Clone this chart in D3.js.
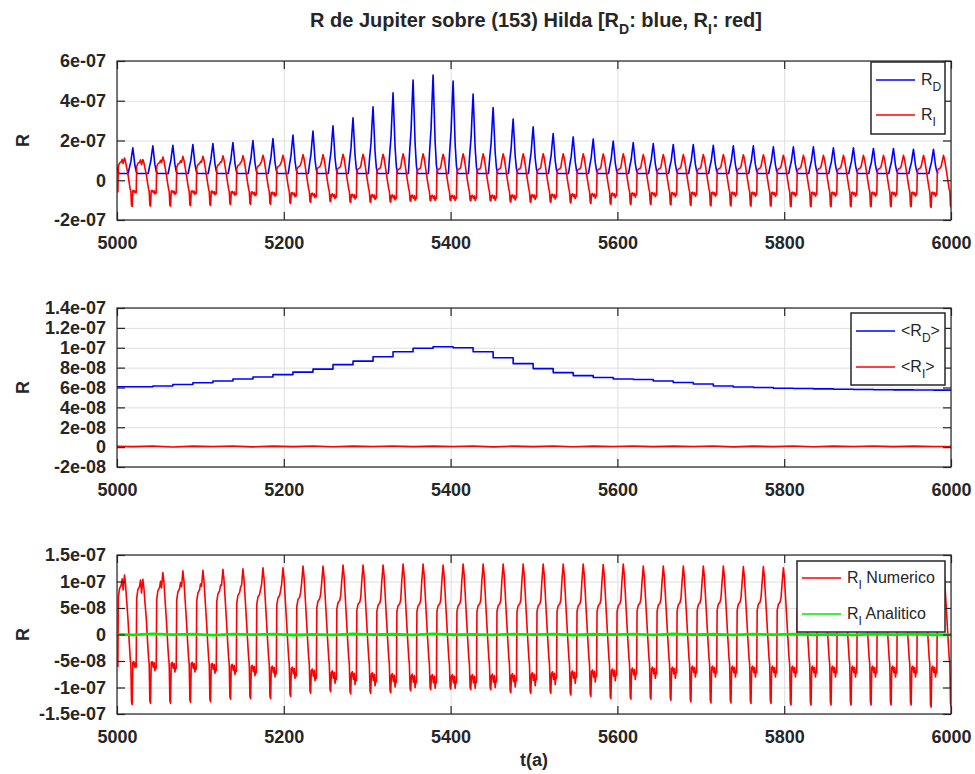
<!DOCTYPE html>
<html>
<head>
<meta charset="utf-8">
<script src="https://cdn.jsdelivr.net/npm/d3@7"></script>
<style>
  body { margin: 0; background: #fff; }
  svg { display: block; }
  text { font-family: "Liberation Sans", Arial, Helvetica, sans-serif; white-space: pre; }
</style>
</head>
<body>
<svg id="chart" width="975" height="774"></svg>
<script>
// Times (years) of the R_D peaks, one per synodic cycle (~24 yr)
const peakTimes = [4997, 5019, 5043, 5067, 5091, 5115, 5139, 5163, 5187, 5211, 5235,
  5259, 5283, 5307, 5331, 5355, 5379, 5403, 5427, 5451, 5475, 5499, 5523, 5547, 5571,
  5595, 5619, 5643, 5667, 5691, 5715, 5739, 5763, 5787, 5811, 5835, 5859, 5883, 5907,
  5931, 5955, 5979];

// R_D peak heights, units of 1e-7
const rdPeaks = [1.60, 1.63, 1.73, 1.76, 1.80, 1.85, 1.90, 2.00, 2.10, 2.27, 2.47,
  2.74, 3.14, 3.70, 4.40, 5.04, 5.29, 4.99, 4.34, 3.66, 3.08, 2.69, 2.35, 2.18, 2.07,
  1.97, 1.90, 1.85, 1.80, 1.80, 1.76, 1.73, 1.73, 1.68, 1.68, 1.68, 1.63, 1.63, 1.60,
  1.60, 1.56, 1.56];
const rdBase = 0.34; // level between peaks, 1e-7

// R_I per cycle, units of 1e-7: max, min spike, upper shelf, lower shelf
const riMax = [1.12, 1.04, 1.17, 1.20, 1.21, 1.23, 1.24, 1.26, 1.26, 1.29, 1.29,
  1.31, 1.31, 1.31, 1.33, 1.33, 1.31, 1.33, 1.33, 1.33, 1.33, 1.33, 1.33, 1.33, 1.32,
  1.33, 1.29, 1.29, 1.29, 1.29, 1.29, 1.28, 1.28, 1.26, 1.25, 1.25, 1.25, 1.25, 1.25,
  1.25, 1.25, 1.25];
const riMin = [-1.32, -1.30, -1.30, -1.28, -1.27, -1.22, -1.21, -1.21, -1.17, -1.11, -1.08,
  -1.12, -1.11, -1.10, -1.06, -1.04, -1.03, -1.04, -1.04, -1.10, -1.11, -1.11, -1.14, -1.17, -1.21,
  -1.22, -1.22, -1.24, -1.27, -1.29, -1.29, -1.30, -1.30, -1.33, -1.33, -1.33, -1.33, -1.33, -1.33,
  -1.33, -1.37, -1.35];
const riShelf = [0.88, 0.86, 0.84, 0.82, 0.80, 0.78, 0.75, 0.72, 0.70, 0.67, 0.64,
  0.61, 0.58, 0.56, 0.55, 0.55, 0.55, 0.55, 0.55, 0.55, 0.55, 0.55, 0.55, 0.55, 0.55,
  0.55, 0.56, 0.56, 0.57, 0.57, 0.58, 0.58, 0.58, 0.58, 0.58, 0.58, 0.58, 0.58, 0.58,
  0.58, 0.58, 0.58];
const riLow = [-0.58, -0.58, -0.60, -0.60, -0.62, -0.64, -0.66, -0.68, -0.70, -0.74, -0.78,
  -0.80, -0.82, -0.84, -0.85, -0.86, -0.86, -0.86, -0.85, -0.84, -0.82, -0.80, -0.78, -0.76, -0.74,
  -0.72, -0.70, -0.70, -0.68, -0.68, -0.68, -0.68, -0.68, -0.68, -0.68, -0.68, -0.68, -0.68, -0.68,
  -0.68, -0.68, -0.68];

// running means, units of 1e-8, one value per cycle
const rdMean = [6.07, 6.08, 6.15, 6.30, 6.48, 6.66, 6.85, 7.05, 7.30, 7.55, 7.85,
  8.30, 8.65, 9.10, 9.60, 9.95, 10.10, 10.00, 9.60, 9.00, 8.40, 7.90, 7.50, 7.20, 7.00,
  6.85, 6.80, 6.65, 6.50, 6.35, 6.15, 6.05, 6.00, 5.93, 5.90, 5.86, 5.82, 5.80, 5.78,
  5.76, 5.75, 5.74];
const riMean = [0.10, 0.05, 0.12, 0.02, 0.10, 0.06, 0.12, 0.03, 0.10, 0.05, 0.12,
  0.04, 0.10, 0.06, 0.12, 0.05, 0.10, 0.06, 0.12, 0.03, 0.10, 0.05, 0.12, 0.04, 0.10,
  0.06, 0.12, 0.05, 0.10, 0.06, 0.12, 0.03, 0.10, 0.05, 0.12, 0.04, 0.10, 0.06, 0.12,
  0.05, 0.10, 0.06];
// analytic R_I, units of 1e-8
const riAnalitico = [0.05, -0.08, 0.10, -0.04, 0.06, -0.10, 0.08, -0.02, 0.07, -0.09, 0.04,
  -0.06, 0.09, -0.03, 0.05, -0.08, 0.10, -0.05, 0.03, -0.07, 0.08, -0.04, 0.06, -0.09, 0.05,
  -0.02, 0.07, -0.06, 0.09, -0.04, 0.05, -0.08, 0.06, -0.03, 0.08, -0.05, 0.04, -0.07, 0.09,
  -0.04, 0.06, -0.05];

// shape of one R_D peak: offset from peak (yr), fraction of peak height above base
const rdShapeT = [-5.6, -4.0, -2.4, -1.2, 0, 1.2, 2.4, 4.0, 5.6];
const rdShapeF = [0, 0.25, 0.46, 0.75, 1, 0.67, 0.33, 0.08, 0];

// shape of one R_I cycle, offset from R_D peak (yr), value in a reference cycle
// (max 1.29, min -1.05, shelf 0.57, low -0.83) and which per-cycle level it follows
const riShapeT = [4, 4.6, 6, 8, 9.2, 10.4, 12, 13.2, 14.4, 16, 17.6, 18.8, 19.6, 20.4,
  21.2, 22, 23.2, 24.4, 25.6, 26.4, 27.2];
const riShapeV = [-0.88, 0.45, 0.56, 0.60, 0.68, 0.97, 1.29, 1.10, 0.78, 0.33, -0.12,
  -0.44, -0.56, -1.01, -1.05, -0.76, -0.73, -0.88, -0.76, -0.98, -0.85];
const riShapeRole = ["low", "shelf", "shelf", "shelf", "shelf", "max", "max", "max", "max",
  "", "", "", "", "min", "min", "low", "low", "low", "low", "low", "low"];

const xTicks = [5000, 5200, 5400, 5600, 5800, 6000];
const xTickLabels = ["5000", "5200", "5400", "5600", "5800", "6000"];
const topTicks = [-2e-7, 0, 2e-7, 4e-7, 6e-7];
const topTickLabels = ["-2e-07", "0", "2e-07", "4e-07", "6e-07"];
const midTicks = [-2e-8, 0, 2e-8, 4e-8, 6e-8, 8e-8, 1e-7, 1.2e-7, 1.4e-7];
const midTickLabels = ["-2e-08", "0", "2e-08", "4e-08", "6e-08", "8e-08", "1e-07", "1.2e-07", "1.4e-07"];
const botTicks = [-1.5e-7, -1e-7, -5e-8, 0, 5e-8, 1e-7, 1.5e-7];
const botTickLabels = ["-1.5e-07", "-1e-07", "-5e-08", "0", "5e-08", "1e-07", "1.5e-07"];

function rdSeries() {
  const pts = [];
  peakTimes.forEach((t, k) => {
    rdShapeT.forEach((dt, j) => {
      pts.push([t + dt, (rdBase + rdShapeF[j] * (rdPeaks[k] - rdBase)) * 1e-7]);
    });
  });
  return pts;
}

function riSeries() {
  const ref = { max: 1.29, min: -1.05, shelf: 0.57, low: -0.83 };
  const pts = [];
  peakTimes.forEach((t, k) => {
    const lv = { max: riMax[k], min: riMin[k], shelf: riShelf[k], low: riLow[k] };
    const next = k + 1 < peakTimes.length ? peakTimes[k + 1] + riShapeT[0] : Infinity;
    riShapeT.forEach((dt, j) => {
      const role = riShapeRole[j];
      const v = role ? riShapeV[j] * lv[role] / ref[role] : riShapeV[j];
      if (t + dt < next) pts.push([t + dt, v * 1e-7]);
    });
  });
  return pts;
}

function perCycle(vals) {
  const pts = peakTimes.map((t, k) => [t, vals[k] * 1e-8]);
  pts.push([6000, vals[vals.length - 1] * 1e-8]);
  return pts;
}

const svg = d3.select("#chart");
const x = d3.scaleLinear().domain([5000, 6000]).range([117, 951]);

function drawPanel(cfg, idx) {
  const { top, bottom } = cfg;
  const y = d3.scaleLinear().domain(cfg.domain).range([bottom, top]);
  const g = svg.append("g");

  // grid
  g.append("g")
    .attr("transform", `translate(0,${bottom})`)
    .call(d3.axisBottom(x).tickValues(xTicks).tickSize(-(bottom - top)).tickFormat(""))
    .call((a) => a.select(".domain").remove())
    .selectAll("line").attr("stroke", "#dedede");
  g.append("g")
    .attr("transform", `translate(117,0)`)
    .call(d3.axisLeft(y).tickValues(cfg.ticks).tickSize(-(951 - 117)).tickFormat(""))
    .call((a) => a.select(".domain").remove())
    .selectAll("line").attr("stroke", "#dedede");

  // data
  g.append("clipPath").attr("id", "clip" + idx)
    .append("rect").attr("x", 117).attr("y", top).attr("width", 834).attr("height", bottom - top);
  const line = d3.line().x((d) => x(d[0])).y((d) => y(d[1]));
  const curves = g.append("g").attr("clip-path", `url(#clip${idx})`);
  cfg.series.forEach((s) => {
    curves.append("path")
      .attr("d", s.step ? line.curve(d3.curveStepAfter)(s.data) : line.curve(d3.curveLinear)(s.data))
      .attr("fill", "none")
      .attr("stroke", s.color)
      .attr("stroke-width", s.width || 1.6)
      .attr("stroke-linejoin", "round");
  });

  // box and ticks
  g.append("rect").attr("x", 117).attr("y", top).attr("width", 834).attr("height", bottom - top)
    .attr("fill", "none").attr("stroke", "#262626").attr("stroke-width", 1.2);

  const tickStyle = (a) => {
    a.select(".domain").remove();
    a.selectAll("line").attr("stroke", "#262626").attr("stroke-width", 1.2);
    a.selectAll("text").attr("fill", "#262626").attr("font-size", 18).attr("font-weight", "bold")
      .style("font-family", "'Liberation Sans', Arial, sans-serif");
  };
  g.append("g").attr("transform", `translate(0,${bottom})`)
    .call(d3.axisBottom(x).tickValues(xTicks).tickSize(-8).tickPadding(16)
      .tickFormat((d, i) => xTickLabels[i]))
    .call(tickStyle);
  g.append("g").attr("transform", `translate(0,${top})`)
    .call(d3.axisTop(x).tickValues(xTicks).tickSize(-8).tickFormat(""))
    .call(tickStyle);
  g.append("g").attr("transform", `translate(117,0)`)
    .call(d3.axisLeft(y).tickValues(cfg.ticks).tickSize(-8).tickPadding(11)
      .tickFormat((d, i) => cfg.labels[i]))
    .call(tickStyle);
  g.append("g").attr("transform", `translate(951,0)`)
    .call(d3.axisRight(y).tickValues(cfg.ticks).tickSize(-8).tickFormat(""))
    .call(tickStyle);

  // y label
  g.append("text")
    .attr("transform", `translate(29,${(top + bottom) / 2}) rotate(-90)`)
    .attr("text-anchor", "middle")
    .attr("font-size", 18).attr("font-weight", "bold").attr("fill", "#262626")
    .text("R");

  // legend
  const L = cfg.legend;
  g.append("rect").attr("x", L.x).attr("y", L.y).attr("width", L.w).attr("height", L.h)
    .attr("fill", "#fff").attr("stroke", "#262626").attr("stroke-width", 1.5);
  L.entries.forEach((e) => {
    g.append("line").attr("x1", L.x + 5).attr("x2", L.x + 44).attr("y1", e.y).attr("y2", e.y)
      .attr("stroke", e.color).attr("stroke-width", 1.6);
    const t = g.append("text").attr("x", L.x + 50).attr("y", e.y + 5)
      .attr("font-size", 16).attr("fill", "#262626");
    e.parts.forEach((p) => {
      if (p.sub) {
        t.append("tspan").attr("dy", 6).attr("font-size", 12).text(p.t);
      } else {
        t.append("tspan").attr("dy", p.after ? -6 : 0).text(p.t);
      }
    });
  });
}

const rdData = rdSeries();
const riData = riSeries();

drawPanel({
  top: 61, bottom: 220, domain: [-2e-7, 6e-7], ticks: topTicks, labels: topTickLabels,
  series: [
    { data: rdData, color: "#0000ff" },
    { data: riData, color: "#ff0000" },
  ],
  legend: {
    x: 871, y: 62, w: 74, h: 72,
    entries: [
      { y: 80, color: "#0000ff", parts: [{ t: "R" }, { t: "D", sub: true }] },
      { y: 115, color: "#ff0000", parts: [{ t: "R" }, { t: "I", sub: true }] },
    ],
  },
}, 0);

drawPanel({
  top: 308, bottom: 467, domain: [-2e-8, 1.4e-7], ticks: midTicks, labels: midTickLabels,
  series: [
    { data: perCycle(rdMean), color: "#0000ff", step: true },
    { data: perCycle(riMean), color: "#ff0000" },
  ],
  legend: {
    x: 851, y: 313, w: 94, h: 72,
    entries: [
      { y: 331, color: "#0000ff", parts: [{ t: "<R" }, { t: "D", sub: true }, { t: ">", after: true }] },
      { y: 367, color: "#ff0000", parts: [{ t: "<R" }, { t: "I", sub: true }, { t: ">", after: true }] },
    ],
  },
}, 1);

drawPanel({
  top: 555, bottom: 714, domain: [-1.5e-7, 1.5e-7], ticks: botTicks, labels: botTickLabels,
  series: [
    { data: riData, color: "#ff0000" },
    { data: perCycle(riAnalitico), color: "#00ee00", width: 2.8 },
  ],
  legend: {
    x: 797, y: 561, w: 148, h: 71,
    entries: [
      { y: 578, color: "#ff0000", parts: [{ t: "R" }, { t: "I", sub: true }, { t: " Numerico", after: true }] },
      { y: 614, color: "#00ee00", parts: [{ t: "R" }, { t: "I", sub: true }, { t: " Analitico", after: true }] },
    ],
  },
}, 2);

// title and x label
const title = svg.append("text").attr("x", 536).attr("y", 27).attr("text-anchor", "middle")
  .attr("font-size", 20).attr("font-weight", "bold").attr("fill", "#262626");
title.append("tspan").text("R de Jupiter sobre (153) Hilda [R");
title.append("tspan").attr("dy", 7).attr("font-size", 14).text("D");
title.append("tspan").attr("dy", -7).text(": blue, R");
title.append("tspan").attr("dy", 7).attr("font-size", 14).text("I");
title.append("tspan").attr("dy", -7).text(": red]");

svg.append("text").attr("x", 534).attr("y", 766).attr("text-anchor", "middle")
  .attr("font-size", 18).attr("font-weight", "bold").attr("fill", "#262626")
  .text("t(a)");
</script>
</body>
</html>
